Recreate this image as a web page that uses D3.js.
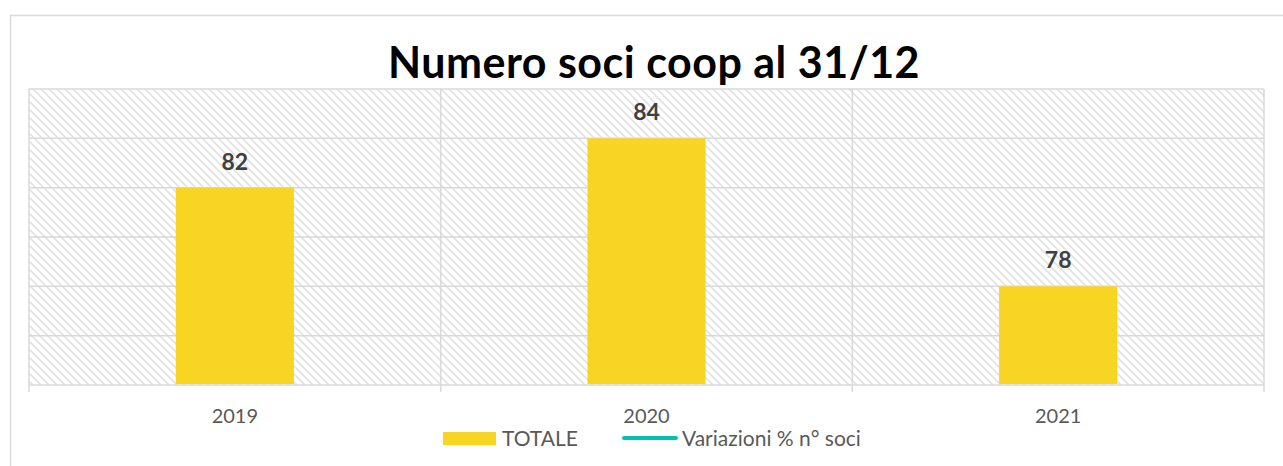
<!DOCTYPE html>
<html>
<head>
<meta charset="utf-8">
<script src="https://cdn.jsdelivr.net/npm/d3@7"></script>
<style>
  body { margin: 0; background: #fff; }
  text { font-family: Lato, "Open Sans", sans-serif; }
</style>
</head>
<body>
<div id="chart"></div>
<script>
const years = ["2019", "2020", "2021"];
const totale = [82, 84, 78];
const yTicks = [74, 76, 78, 80, 82, 84, 86];
const seriesNames = ["TOTALE", "Variazioni % n° soci"];

const width = 1283, height = 466;
const margin = {top: 89, right: 19, bottom: 81, left: 29};

let svg = d3.select("#chart")
    .append("svg")
    .attr("width", width)
    .attr("height", height);

// hatch pattern for the plot area
let defs = svg.append("defs");
let pat = defs.append("pattern")
    .attr("id", "hatch")
    .attr("patternUnits", "userSpaceOnUse")
    .attr("width", 8)
    .attr("height", 8);
pat.append("path")
    .attr("d", "M-2,-2 L10,10 M-2,6 L2,10 M6,-2 L10,2")
    .attr("stroke", "#e2e2e2")
    .attr("stroke-width", 1.6);

// outer chart border
svg.append("rect")
    .attr("x", 10.5).attr("y", 15.5)
    .attr("width", width).attr("height", height)
    .attr("fill", "none")
    .attr("stroke", "#d9d9d9")
    .attr("stroke-width", 1.5);

let x = d3.scaleBand()
    .domain(years)
    .range([margin.left, width - margin.right]);

let y = d3.scaleLinear()
    .domain([74, 86])
    .range([height - margin.bottom, margin.top]);

svg.append("rect")
    .attr("x", margin.left).attr("y", margin.top)
    .attr("width", width - margin.right - margin.left)
    .attr("height", y(74) - y(86))
    .attr("fill", "url(#hatch)");

// horizontal gridlines
svg.append("g")
    .selectAll("line")
    .data(yTicks)
    .join("line")
    .attr("x1", margin.left).attr("x2", width - margin.right)
    .attr("y1", d => y(d)).attr("y2", d => y(d))
    .attr("stroke", "#d9d9d9")
    .attr("stroke-width", 1.5);

// category separators (extend below axis as ticks)
let seps = [...years.map(d => x(d)), x(years[years.length - 1]) + x.bandwidth()];
svg.append("g")
    .selectAll("line")
    .data(seps)
    .join("line")
    .attr("x1", d => d).attr("x2", d => d)
    .attr("y1", y(86)).attr("y2", y(74) + 7)
    .attr("stroke", "#d9d9d9")
    .attr("stroke-width", 1.5);

// bars
let barW = x.bandwidth() * 0.287;
let bar = svg.selectAll(".bar")
    .data(years.map((d, i) => ({year: d, v: totale[i]})))
    .join("g")
    .attr("class", "bar");

bar.append("rect")
    .attr("fill", "#f8d423")
    .attr("x", d => x(d.year) + x.bandwidth() / 2 - barW / 2)
    .attr("width", barW)
    .attr("y", d => y(d.v))
    .attr("height", d => y(74) - y(d.v) - 1);

bar.append("text")
    .text(d => d.v)
    .attr("x", d => x(d.year) + x.bandwidth() / 2)
    .attr("y", d => y(d.v) - 18)
    .attr("text-anchor", "middle")
    .attr("font-size", 23)
    .attr("font-weight", "bold")
    .attr("fill", "#404040");

// x axis labels
svg.append("g")
    .selectAll("text")
    .data(years)
    .join("text")
    .text(d => d)
    .attr("x", d => x(d) + x.bandwidth() / 2)
    .attr("y", y(74) + 38)
    .attr("text-anchor", "middle")
    .attr("font-size", 20)
    .attr("fill", "#595959");

// title
svg.append("text")
    .text("Numero soci coop al 31/12")
    .attr("x", 654)
    .attr("y", 78)
    .attr("text-anchor", "middle")
    .attr("font-size", 43)
    .attr("font-weight", "bold")
    .attr("letter-spacing", 0.5)
    .attr("fill", "#000");

// legend
let lg = svg.append("g");
lg.append("rect")
    .attr("x", 443).attr("y", 432)
    .attr("width", 53).attr("height", 13)
    .attr("fill", "#f8d423");
lg.append("text")
    .text(seriesNames[0])
    .attr("x", 502).attr("y", 446)
    .attr("font-size", 21)
    .attr("fill", "#595959");
lg.append("line")
    .attr("x1", 624).attr("x2", 676)
    .attr("y1", 438).attr("y2", 438)
    .attr("stroke", "#00c4ae")
    .attr("stroke-width", 4)
    .attr("stroke-linecap", "round");
lg.append("text")
    .text(seriesNames[1])
    .attr("x", 682).attr("y", 446)
    .attr("font-size", 21)
    .attr("fill", "#595959");
</script>
</body>
</html>
